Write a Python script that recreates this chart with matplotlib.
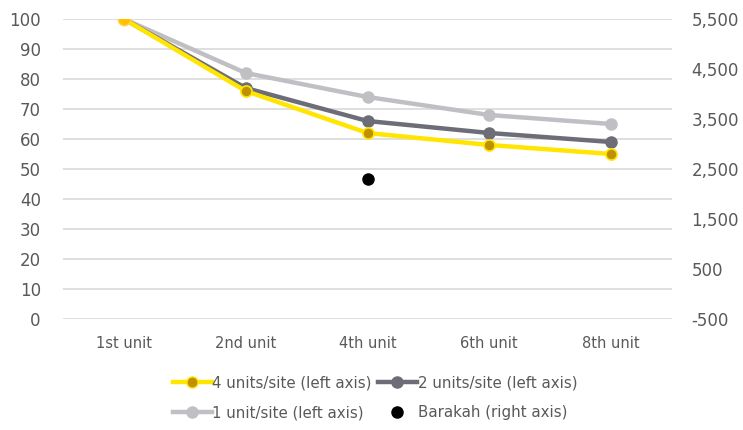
import matplotlib
matplotlib.use("Agg")
import matplotlib.pyplot as plt
from matplotlib.lines import Line2D

categories = ["1st unit", "2nd unit", "4th unit", "6th unit", "8th unit"]
units4 = [100, 76, 62, 58, 55]
units2 = [100, 77, 66, 62, 59]
units1 = [100, 82, 74, 68, 65]
barakah_cat = "4th unit"
barakah_val = 2300
left_ticks = list(range(0, 101, 10))
right_ticks = [-500, 500, 1500, 2500, 3500, 4500, 5500]

plt.rcParams['font.family'] = ['DejaVu Sans']
txt = "#595959"
yellow = "#FFE500"
gold = "#BF9000"
dgray = "#6D6D78"
lgray = "#C0C0C4"

fig = plt.figure(figsize=(7.43, 4.30), dpi=100)
ax = fig.add_axes([63/743, 1-319/430, (672-63)/743, 300/430])
ax2 = ax.twinx()

x = list(range(len(categories)))
ax.plot(x, units1, color=lgray, lw=3.2, marker='o', ms=8, mfc=lgray, mec=lgray, zorder=3, solid_capstyle='round')
ax.plot(x, units2, color=dgray, lw=3.2, marker='o', ms=8, mfc=dgray, mec=dgray, zorder=4, solid_capstyle='round')
ax.plot(x, units4, color=yellow, lw=3.2, marker='o', ms=8, mfc=gold, mec=yellow, mew=1.2, zorder=5, solid_capstyle='round')
ax.plot([x[0]], [units4[0]], marker='o', ms=9, mfc="#FFC000", mec="#FFD54A", mew=1, zorder=6, ls='none')

ax2.plot([categories.index(barakah_cat)], [barakah_val], 'o', color='black', ms=8)

ax.set_xlim(-0.5, len(categories) - 0.5)
ax.set_ylim(0, 100)
ax2.set_ylim(-500, 5500)
ax.set_yticks(left_ticks)
ax2.set_yticks(right_ticks)
ax2.set_yticklabels([f"{v:,}" for v in right_ticks])
ax.set_xticks(x)
ax.set_xticklabels(categories)

for a in (ax, ax2):
    for s in a.spines.values():
        s.set_visible(False)
    a.tick_params(length=0, colors=txt, labelsize=12)
ax.tick_params(axis='x', labelsize=10.5, pad=12)
ax.tick_params(axis='y', pad=16)
ax2.tick_params(axis='y', pad=14)
ax.grid(axis='y', color='#D9D9D9', lw=1.2)
ax.set_axisbelow(True)
ax.set_zorder(ax2.get_zorder() + 1)
ax.patch.set_visible(False)

h4 = Line2D([], [], color=yellow, lw=3.2, marker='o', ms=8, mfc=gold, mec=yellow)
h2 = Line2D([], [], color=dgray, lw=3.2, marker='o', ms=8, mfc=dgray, mec=dgray)
h1 = Line2D([], [], color=lgray, lw=3.2, marker='o', ms=8, mfc=lgray, mec=lgray)
hb = Line2D([], [], color='black', ls='none', marker='o', ms=8)
leg = fig.legend([h4, h1, h2, hb],
                 ["4 units/site (left axis)", "1 unit/site (left axis)",
                  "2 units/site (left axis)", "Barakah (right axis)"],
                 ncol=2, loc='center', bbox_to_anchor=(375/743, 1-398/430),
                 frameon=False, fontsize=10.8, handlelength=2.6, handletextpad=0.05,
                 columnspacing=0.4, labelspacing=1.0, labelcolor=txt)

fig.savefig("out.png", dpi=100)
